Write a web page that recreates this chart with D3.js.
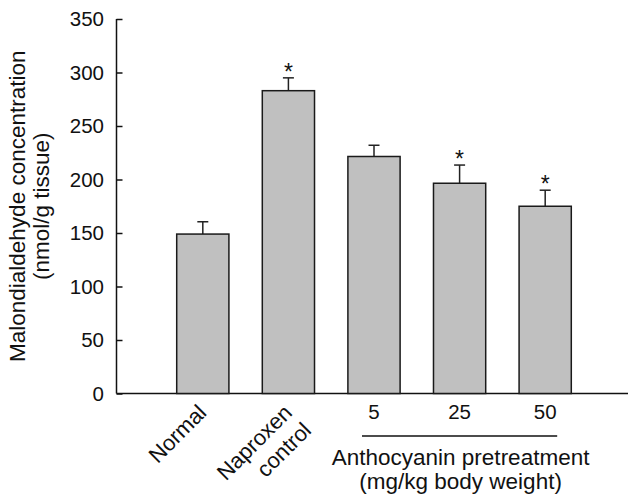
<!DOCTYPE html>
<html>
<head>
<meta charset="utf-8">
<script src="https://cdn.jsdelivr.net/npm/d3@7"></script>
<style>
  body { margin: 0; background: #fff; }
  svg text { font-family: "Liberation Sans", Arial, sans-serif; fill: #111; }
</style>
</head>
<body>
<svg id="chart" width="628" height="495"></svg>
<script>
// Data
const groups = ['Normal', 'Naproxen control', '5', '25', '50'];
const means = [149, 283, 221.5, 196.5, 175];
const errors = [11.5, 12, 10.5, 17, 15];
const significant = [false, true, false, true, true];
const yTicks = [0, 50, 100, 150, 200, 250, 300, 350];

const svg = d3.select('#chart');

const x = d3.scaleBand()
  .domain(groups)
  .range([118.5, 629.5])
  .paddingInner(0.39)
  .paddingOuter(0.68);

const y = d3.scaleLinear().domain([0, 350]).range([393.5, 19]);
const axisX = 116.5;
const labelSize = 22;

// y axis, ticks point inward
const yAxis = svg.append('g')
  .attr('transform', `translate(${axisX},0)`)
  .call(d3.axisRight(y).tickValues(yTicks).tickSize(6).tickFormat(''));
yAxis.select('.domain').attr('stroke', '#111').attr('stroke-width', 1.5).attr('d', `M0,${y(350)}V${y(0)}`);
yAxis.selectAll('.tick line').attr('stroke', '#111').attr('stroke-width', 1.5);

svg.append('g').selectAll('text')
  .data(yTicks)
  .join('text')
  .attr('x', 104)
  .attr('y', (d) => y(d))
  .attr('dy', '0.36em')
  .attr('text-anchor', 'end')
  .attr('font-size', 20.5)
  .text((d) => d);

// x axis line, runs to the right edge
svg.append('line')
  .attr('x1', axisX).attr('x2', 628)
  .attr('y1', y(0)).attr('y2', y(0))
  .attr('stroke', '#111').attr('stroke-width', 1.5);

// error bars (behind the bars)
const err = svg.append('g').attr('stroke', '#222').attr('stroke-width', 1.5);
groups.forEach((g, i) => {
  const cx = x(g) + x.bandwidth() / 2;
  err.append('line')
    .attr('x1', cx).attr('x2', cx)
    .attr('y1', y(means[i])).attr('y2', y(means[i] + errors[i]));
  err.append('line')
    .attr('x1', cx - 5.5).attr('x2', cx + 5.5)
    .attr('y1', y(means[i] + errors[i])).attr('y2', y(means[i] + errors[i]));
});

// bars
svg.append('g').selectAll('rect')
  .data(groups)
  .join('rect')
  .attr('x', (d) => x(d))
  .attr('y', (d, i) => y(means[i]))
  .attr('width', x.bandwidth())
  .attr('height', (d, i) => y(0) - y(means[i]))
  .attr('fill', '#c0c0c0')
  .attr('stroke', '#1a1a1a')
  .attr('stroke-width', 1.5);

// asterisks
svg.append('g').selectAll('text')
  .data(groups.filter((d, i) => significant[i]))
  .join('text')
  .attr('x', (d) => x(d) + x.bandwidth() / 2)
  .attr('y', (d) => { const i = groups.indexOf(d); return y(means[i] + errors[i]) + 2; })
  .attr('text-anchor', 'middle')
  .attr('font-size', 23)
  .text('*');

// rotated category labels
const rotLabels = [['Normal'], ['Naproxen', 'control']];
rotLabels.forEach((lines, i) => {
  const cx = x(groups[i]) + x.bandwidth() / 2;
  const t = svg.append('text')
    .attr('transform', `translate(${cx + 5},${414}) rotate(-45)`)
    .attr('text-anchor', 'end')
    .attr('font-size', labelSize);
  lines.forEach((l, k) => {
    t.append('tspan')
      .attr('x', k === 0 ? 0 : 1)
      .attr('dy', k === 0 ? 0 : 26)
      .text(l);
  });
});

// dose labels
svg.append('g').selectAll('text')
  .data(groups.slice(2))
  .join('text')
  .attr('x', (d) => x(d) + x.bandwidth() / 2)
  .attr('y', 419)
  .attr('text-anchor', 'middle')
  .attr('font-size', 20.5)
  .text((d) => d);

const c3 = x(groups[2]) + x.bandwidth() / 2;
const c4 = x(groups[3]) + x.bandwidth() / 2;
const c5 = x(groups[4]) + x.bandwidth() / 2;
svg.append('line')
  .attr('x1', c3 - 12).attr('x2', c5 + 12)
  .attr('y1', 436).attr('y2', 436)
  .attr('stroke', '#111').attr('stroke-width', 1.5);

svg.append('text')
  .attr('x', c4 + 1).attr('y', 465)
  .attr('text-anchor', 'middle')
  .attr('font-size', 22.5)
  .text('Anthocyanin pretreatment');
svg.append('text')
  .attr('x', c4 + 1).attr('y', 489)
  .attr('text-anchor', 'middle')
  .attr('font-size', 22.5)
  .text('(mg/kg body weight)');

// y axis title
const yMid = (y(0) + y(350)) / 2;
svg.append('text')
  .attr('transform', `translate(25,${yMid}) rotate(-90)`)
  .attr('text-anchor', 'middle')
  .attr('font-size', 22.5)
  .text('Malondialdehyde concentration');
svg.append('text')
  .attr('transform', `translate(49,${yMid}) rotate(-90)`)
  .attr('text-anchor', 'middle')
  .attr('font-size', 22.5)
  .text('(nmol/g tissue)');
</script>
</body>
</html>
